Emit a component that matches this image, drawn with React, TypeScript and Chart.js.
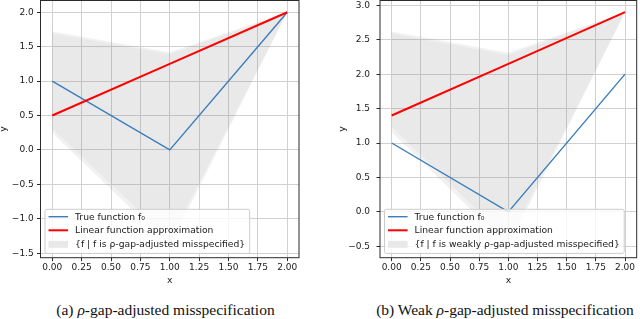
import React, { useEffect, useRef } from "react";
import { Chart, registerables } from "chart.js";

Chart.register(...registerables);

// ---------- data ----------
const xValues = [0, 1, 2];
const trueFunction = [1, 0, 2];
const linearA = [0.5, 1.25, 2.0];
const linearB = [1.4, 2.15, 2.9];

const bandAOuterUpper = [1.72, 1.42, 2.0];
const bandAOuterLower = [0.25, -1.39, 2.0];
const bandAInnerUpper = [1.69, 1.39, 2.0];
const bandAInnerLower = [0.31, -1.3, 2.0];

const bandBOuterUpper = [2.62, 2.31, 2.9];
const bandBOuterLower = [1.16, -0.5, 2.9];
const bandBInnerUpper = [2.59, 2.28, 2.9];
const bandBInnerLower = [1.24, -0.42, 2.9];

const xTicks = [0, 0.25, 0.5, 0.75, 1, 1.25, 1.5, 1.75, 2];
const xTickLabels = ["0.00", "0.25", "0.50", "0.75", "1.00", "1.25", "1.50", "1.75", "2.00"];
const yTicksA = [-1.5, -1, -0.5, 0, 0.5, 1, 1.5, 2];
const yTickLabelsA = ["−1.5", "−1.0", "−0.5", "0.0", "0.5", "1.0", "1.5", "2.0"];
const yTicksB = [-0.5, 0, 0.5, 1, 1.5, 2, 2.5, 3];
const yTickLabelsB = ["−0.5", "0.0", "0.5", "1.0", "1.5", "2.0", "2.5", "3.0"];

const legendLabelsA = [
  "True function f₀",
  "Linear function approximation",
  "{f | f is ρ-gap-adjusted misspecified}",
];
const legendLabelsB = [
  "True function f₀",
  "Linear function approximation",
  "{f | f is weakly ρ-gap-adjusted misspecified}",
];
const xTitle = "x";
const yTitle = "y";

// ---------- styles ----------
const FONT = '"DejaVu Sans", sans-serif';
const BLUE = "#3a7dbd";
const RED = "#ff0000";
const BAND_OUTER = "rgba(128,128,128,0.11)";
const BAND_INNER = "rgba(128,128,128,0.075)";
const CANVAS_W = 320;
const CANVAS_H = 300;
const CANVAS_TOP = -12;
const AREA_TOP = 12.5;
const AREA_BOTTOM = 269.7;

type Cfg = {
  linear: number[];
  outerUpper: number[];
  outerLower: number[];
  innerUpper: number[];
  innerLower: number[];
  yMin: number;
  yMax: number;
  yTicks: number[];
  yTickLabels: string[];
  yAxisWidth: number;
  padRight: number;
  yLabelPad: number;
  legendLabels: string[];
  yTitleX: number;
};

function pts(ys: number[]) {
  return xValues.map((x, i) => ({ x, y: ys[i] }));
}

function makeConfig(c: Cfg): any {
  const decor = {
    id: "decor",
    afterDraw(chart: any) {
      const ctx = chart.ctx as CanvasRenderingContext2D;
      const a = chart.chartArea;
      ctx.save();
      // spines
      ctx.strokeStyle = "#2b2b2b";
      ctx.lineWidth = 1;
      ctx.strokeRect(a.left, a.top, a.right - a.left, a.bottom - a.top);
      // axis titles
      ctx.fillStyle = "#1a1a1a";
      ctx.font = `9.2px ${FONT}`;
      ctx.textAlign = "center";
      ctx.textBaseline = "middle";
      ctx.fillText(xTitle, (a.left + a.right) / 2, 292.2);
      ctx.save();
      ctx.translate(c.yTitleX, (a.top + a.bottom) / 2);
      ctx.rotate(-Math.PI / 2);
      ctx.fillText(yTitle, 0, 0);
      ctx.restore();
      // legend
      ctx.font = `9.2px ${FONT}`;
      const maxW = Math.max(...c.legendLabels.map((l) => ctx.measureText(l).width));
      const bx = a.left + 4.5;
      const bBottom = a.bottom - 4.3;
      const bTop = bBottom - 44.1;
      const hx0 = bx + 3.5;
      const hx1 = hx0 + 19.6;
      const tx = hx1 + 7;
      const bw = tx + maxW + 4.5 - bx;
      const r = 2;
      ctx.beginPath();
      ctx.moveTo(bx + r, bTop);
      ctx.lineTo(bx + bw - r, bTop);
      ctx.arcTo(bx + bw, bTop, bx + bw, bTop + r, r);
      ctx.lineTo(bx + bw, bBottom - r);
      ctx.arcTo(bx + bw, bBottom, bx + bw - r, bBottom, r);
      ctx.lineTo(bx + r, bBottom);
      ctx.arcTo(bx, bBottom, bx, bBottom - r, r);
      ctx.lineTo(bx, bTop + r);
      ctx.arcTo(bx, bTop, bx + r, bTop, r);
      ctx.closePath();
      ctx.fillStyle = "rgba(255,255,255,0.8)";
      ctx.fill();
      ctx.strokeStyle = "#cccccc";
      ctx.lineWidth = 1;
      ctx.stroke();
      const rows = [bTop + 7.4, bTop + 21, bTop + 35];
      // handles
      ctx.lineWidth = 1.4;
      ctx.strokeStyle = BLUE;
      ctx.beginPath();
      ctx.moveTo(hx0, rows[0]);
      ctx.lineTo(hx1, rows[0]);
      ctx.stroke();
      ctx.lineWidth = 2;
      ctx.strokeStyle = RED;
      ctx.beginPath();
      ctx.moveTo(hx0, rows[1]);
      ctx.lineTo(hx1, rows[1]);
      ctx.stroke();
      ctx.fillStyle = "#e8e8e8";
      ctx.fillRect(hx0, rows[2] - 3.5, hx1 - hx0, 7);
      ctx.fillStyle = "#1a1a1a";
      ctx.textAlign = "left";
      ctx.textBaseline = "middle";
      c.legendLabels.forEach((l, i) => ctx.fillText(l, tx, rows[i] + 0.5));
      ctx.restore();
    },
  };

  const hidden = "rgba(0,0,0,0)";
  return {
    type: "line",
    data: {
      datasets: [
        { data: pts(c.outerUpper), fill: "+1", backgroundColor: BAND_OUTER, borderColor: hidden, borderWidth: 0, pointRadius: 0, order: 3 },
        { data: pts(c.outerLower), fill: false, borderColor: hidden, borderWidth: 0, pointRadius: 0, order: 3 },
        { data: pts(c.innerUpper), fill: "+1", backgroundColor: BAND_INNER, borderColor: hidden, borderWidth: 0, pointRadius: 0, order: 2 },
        { data: pts(c.innerLower), fill: false, borderColor: hidden, borderWidth: 0, pointRadius: 0, order: 2 },
        { data: pts(trueFunction), fill: false, borderColor: BLUE, borderWidth: 1.4, pointRadius: 0, order: 1 },
        { data: pts(c.linear), fill: false, borderColor: RED, borderWidth: 2, pointRadius: 0, order: 0 },
      ],
    },
    options: {
      responsive: false,
      animation: false,
      events: [],
      layout: { padding: { left: 0, right: c.padRight, top: AREA_TOP, bottom: 0 } },
      plugins: { legend: { display: false }, tooltip: { enabled: false }, title: { display: false } },
      scales: {
        x: {
          type: "linear",
          min: -0.1,
          max: 2.1,
          bounds: "data",
          afterBuildTicks: (s: any) => {
            s.ticks = xTicks.map((v) => ({ value: v }));
          },
          afterFit: (s: any) => {
            s.height = CANVAS_H - AREA_BOTTOM;
          },
          ticks: {
            autoSkip: false,
            maxRotation: 0,
            padding: 1.5,
            color: "#1a1a1a",
            font: { family: FONT, size: 9 },
            callback: (v: number) => {
              const i = xTicks.indexOf(v);
              return i >= 0 ? xTickLabels[i] : "";
            },
          },
          grid: { color: "#d0d0d0", lineWidth: 1, drawTicks: true, tickLength: 3.5, tickColor: "#2b2b2b", tickWidth: 1 },
          border: { display: false },
        },
        y: {
          type: "linear",
          min: c.yMin,
          max: c.yMax,
          bounds: "data",
          afterBuildTicks: (s: any) => {
            s.ticks = c.yTicks.map((v) => ({ value: v }));
          },
          afterFit: (s: any) => {
            s.width = c.yAxisWidth;
          },
          ticks: {
            autoSkip: false,
            padding: c.yLabelPad,
            color: "#1a1a1a",
            font: { family: FONT, size: 9 },
            callback: (v: number) => {
              const i = c.yTicks.indexOf(v);
              return i >= 0 ? c.yTickLabels[i] : "";
            },
          },
          grid: { color: "#d0d0d0", lineWidth: 1, drawTicks: true, tickLength: 3.5, tickColor: "#2b2b2b", tickWidth: 1 },
          border: { display: false },
        },
      },
    },
    plugins: [decor],
  };
}

function Panel(props: { cfg: Cfg; left: number }) {
  const ref = useRef<HTMLCanvasElement | null>(null);
  useEffect(() => {
    if (!ref.current) return;
    const chart = new Chart(ref.current, makeConfig(props.cfg));
    return () => chart.destroy();
  }, []);
  return (
    <canvas
      ref={ref}
      width={CANVAS_W}
      height={CANVAS_H}
      style={{ position: "absolute", left: props.left, top: CANVAS_TOP, width: CANVAS_W, height: CANVAS_H }}
    />
  );
}

const cfgA: Cfg = {
  linear: linearA,
  outerUpper: bandAOuterUpper,
  outerLower: bandAOuterLower,
  innerUpper: bandAInnerUpper,
  innerLower: bandAInnerLower,
  yMin: -1.564,
  yMax: 2.17,
  yTicks: yTicksA,
  yTickLabels: yTickLabelsA,
  yAxisWidth: 40.5,
  padRight: 21,
  yLabelPad: 3.3,
  legendLabels: legendLabelsA,
  yTitleX: 4,
};

const cfgB: Cfg = {
  linear: linearB,
  outerUpper: bandBOuterUpper,
  outerLower: bandBOuterLower,
  innerUpper: bandBInnerUpper,
  innerLower: bandBInnerLower,
  yMin: -0.666,
  yMax: 3.07,
  yTicks: yTicksB,
  yTickLabels: yTickLabelsB,
  yAxisWidth: 60,
  padRight: 3.3,
  yLabelPad: 6.5,
  legendLabels: legendLabelsB,
  yTitleX: 22.7,
};

const captionStyle: React.CSSProperties = {
  position: "absolute",
  top: 302,
  width: 320,
  textAlign: "center",
  fontFamily: '"Liberation Serif", serif',
  fontSize: 15.5,
  lineHeight: "15.5px",
  color: "#111",
  whiteSpace: "nowrap",
};

export default function App() {
  return (
    <div style={{ position: "absolute", left: 0, top: 0, width: 640, height: 319, background: "#fff", overflow: "hidden" }}>
      <Panel cfg={cfgA} left={0} />
      <Panel cfg={cfgB} left={320} />
      <div style={{ ...captionStyle, left: 165.5 - 160 }}>
        (a) <i>ρ</i>-gap-adjusted misspecification
      </div>
      <div style={{ ...captionStyle, left: 505 - 160 }}>
        (b) Weak <i>ρ</i>-gap-adjusted misspecification
      </div>
    </div>
  );
}
